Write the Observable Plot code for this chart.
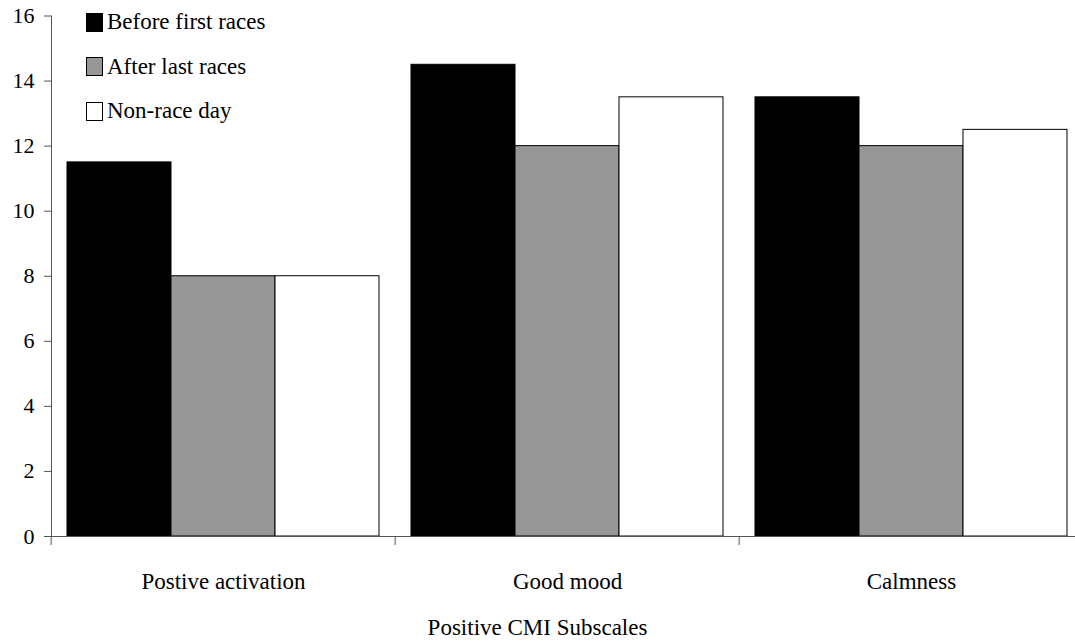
<!DOCTYPE html>
<html>
<head>
<meta charset="utf-8">
<script src="https://cdn.jsdelivr.net/npm/d3@7"></script>
<script src="https://cdn.jsdelivr.net/npm/@observablehq/plot@0.6"></script>
<style>
  body { margin: 0; background: #fff; }
  #wrap { position: relative; width: 1075px; height: 644px; overflow: hidden; }
  #legend { position: absolute; left: 86px; top: 0; }
  .item { position: absolute; left: 0; height: 26px; white-space: nowrap; font-size: 23px; display: flex; align-items: center; }
  .sw { width: 17px; height: 19px; box-sizing: border-box; border: 1px solid #000; margin-right: 4px; }
  #caption { position: absolute; top: 611px; left: 0; width: 1075px; text-align: center; font-size: 23px; line-height: 34px; }
</style>
</head>
<body>
<div id="wrap">
  <div id="chart"></div>
  <div id="legend"></div>
  <div id="caption"></div>
</div>
<script>
// Subscales on the horizontal axis and the three measurement occasions
const categories = ["Postive activation", "Good mood", "Calmness"];
const series = ["Before first races", "After last races", "Non-race day"];

// Mean scores per subscale, one array per occasion
const beforeFirstRaces = [11.5, 14.5, 13.5];
const afterLastRaces = [8, 12, 12];
const nonRaceDay = [8, 13.5, 12.5];

const yTicks = [0, 2, 4, 6, 8, 10, 12, 14, 16];
const axisTitle = "Positive CMI Subscales";
const seriesColors = ["#000000", "#969696", "#ffffff"];

const seriesValues = [beforeFirstRaces, afterLastRaces, nonRaceDay];
const rows = categories.flatMap((category, i) =>
  series.map((s, j) => ({category, series: s, value: seriesValues[j][i]}))
);

// Pick the first installed Times-like face
function hasFont(name) {
  const ctx = document.createElement("canvas").getContext("2d");
  const probe = "abcdefghijklmnopqrstuvwxyzABCDEFGHIJ0123456789";
  ctx.font = "40px monospace";
  const base = ctx.measureText(probe).width;
  ctx.font = `40px "${name}", monospace`;
  return ctx.measureText(probe).width !== base;
}
const serifFace = ["Liberation Serif", "Tinos", "Times New Roman", "Nimbus Roman", "Noto Serif", "DejaVu Serif"].find(hasFont);
const fontStack = serifFace ? `"${serifFace}", serif` : "serif";
document.body.style.fontFamily = fontStack;

// Layout
const W = 1075, H = 610;
const mL = 50, mR = -9, mT = 15.5, mB = H - 536;
const step = (W - mR - mL) / categories.length;
const axisGray = "#555555";

const chart = Plot.plot({
  width: W,
  height: H,
  marginLeft: mL,
  marginRight: mR,
  marginTop: mT,
  marginBottom: mB,
  style: {fontFamily: fontStack, fontSize: "23px", background: "white", color: "black"},
  fx: {domain: categories, paddingInner: 0, paddingOuter: 0, label: null},
  x: {domain: series, paddingInner: 0, paddingOuter: 0.149, axis: null},
  y: {domain: [0, 16], ticks: yTicks, label: null},
  color: {domain: series, range: seriesColors},
  marks: [
    Plot.barY(rows, {fx: "category", x: "series", y: "value", fill: "series", stroke: "black", strokeWidth: 1}),
    Plot.axisY({ticks: yTicks, tickSize: 7, tickPadding: 10, stroke: axisGray, fontSize: 22, label: null, tickFormat: (d) => String(d)}),
    Plot.frame({anchor: "left", stroke: axisGray, facet: "super"}),
    Plot.ruleY([0], {stroke: axisGray}),
    // boundary ticks between subscale groups
    Plot.axisFx({anchor: "bottom", tickSize: 9, dx: -step / 2, stroke: axisGray, tickFormat: () => "", label: null}),
    Plot.axisFx({anchor: "bottom", tickSize: 0, tickPadding: 36, fontSize: 23, label: null})
  ]
});
document.getElementById("chart").appendChild(chart);

// Legend drawn over the upper-left corner of the plot area
const legend = document.getElementById("legend");
series.forEach((s, j) => {
  const item = document.createElement("div");
  item.className = "item";
  item.style.top = (9 + j * 44.5) + "px";
  const sw = document.createElement("div");
  sw.className = "sw";
  sw.style.background = seriesColors[j];
  const label = document.createElement("span");
  label.textContent = s;
  item.appendChild(sw);
  item.appendChild(label);
  legend.appendChild(item);
});

document.getElementById("caption").textContent = axisTitle;
</script>
</body>
</html>
